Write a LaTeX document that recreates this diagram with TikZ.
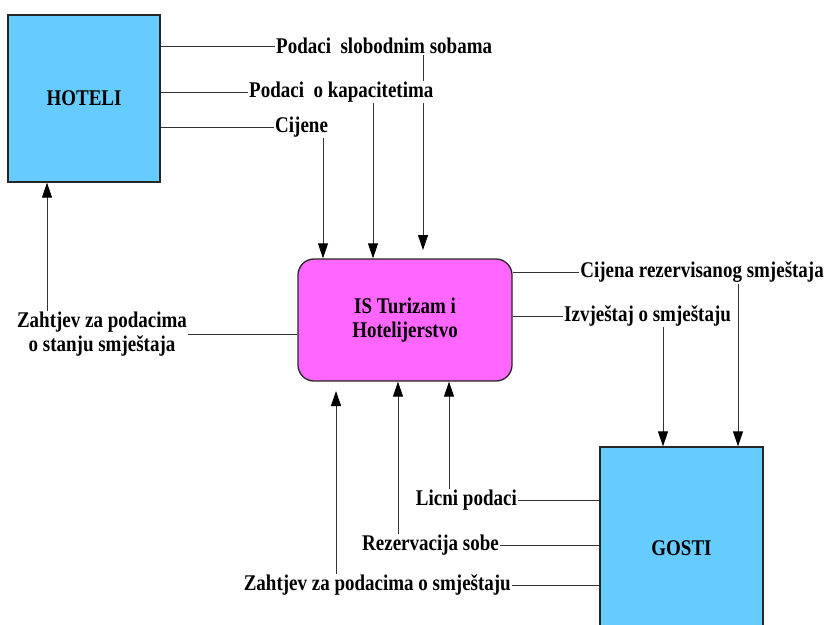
\documentclass[tikz,border=0pt]{standalone}
\usepackage{fontspec}
\setmainfont{Liberation Serif}
\usetikzlibrary{arrows.meta,backgrounds}
\definecolor{boxblue}{HTML}{66CCFF}
\definecolor{boxpink}{HTML}{FF66FF}
\definecolor{linegray}{HTML}{333333}
\newcommand{\stt}[1]{\scalebox{1}[1.18]{#1}}
\begin{document}
\begin{tikzpicture}[x=1pt,y=-1pt,
  lbl/.style={font=\fontsize{19}{24}\selectfont\bfseries, fill=white, inner sep=1pt},
  ext/.style={draw=black!85, line width=1.3pt, fill=boxblue, font=\fontsize{19}{24}\selectfont\bfseries, inner sep=0pt},
  proc/.style={draw=black!85, line width=1.3pt, fill=boxpink, rounded corners=16pt, font=\fontsize{19}{24}\selectfont\bfseries, inner sep=0pt, align=center},
  flow/.style={draw=linegray, line width=0.9pt},
  arr/.style={flow, -{Triangle[length=15pt,width=10pt,color=black]}}]
\clip (0,0) rectangle (826,624);
% boxes
\node[ext, minimum width=152pt, minimum height=167pt] (hot) at (84,98.5) {\stt{HOTELI}};
\node[proc, minimum width=214pt, minimum height=122pt] (is) at (405,320) {\stt{IS Turizam i}\\\stt{Hotelijerstvo}};
\node[ext, minimum width=163pt, minimum height=203pt] (gos) at (681.5,548.5) {\stt{GOSTI}};
% labels
\node[lbl, anchor=west] (l1) at (275,46) {\stt{Podaci\ \ slobodnim sobama}};
\node[lbl, anchor=west] (l2) at (248,92) {\stt{Podaci\ \ o kapacitetima}};
\node[lbl, anchor=west] (l3) at (274,127) {\stt{Cijene}};
\node[lbl, anchor=east] (r1) at (825,272) {\stt{Cijena rezervisanog smještaja}};
\node[lbl, anchor=west] (r2) at (563,316) {\stt{Izvještaj o smještaju}};
\node[lbl, align=center] (lz) at (102,334) {\stt{Zahtjev za podacima}\\\stt{o stanju smještaja}};
\node[lbl, anchor=east] (b1) at (518,500) {\stt{Licni podaci}};
\node[lbl, anchor=east] (b2) at (500,545) {\stt{Rezervacija sobe}};
\node[lbl, anchor=east] (b3) at (512,585) {\stt{Zahtjev za podacima o smještaju}};
% helper coordinates
\coordinate (x0) at (47,0);
\coordinate (x1) at (323,0);
\coordinate (x2) at (373,0);
\coordinate (x3) at (423,0);
\coordinate (e3) at (423,250);
\coordinate (x5) at (663,0);
\coordinate (x6) at (738,0);
\coordinate (x7) at (449,0);
\coordinate (x8) at (398,0);
\coordinate (x9) at (336,0);
\coordinate (e9) at (336,391);
\begin{pgfonlayer}{background}
\draw[flow] (hot.east |- l1) -- (l1.west);
\draw[flow] (hot.east |- l2) -- (l2.west);
\draw[flow] (hot.east |- l3) -- (l3.west);
\draw[arr] (l3.south -| x1) -- (is.north -| x1);
\draw[arr] (l2.south -| x2) -- (is.north -| x2);
\draw[arr] (l1.south -| x3) -- (e3);
\draw[flow] (is.east |- r1) -- (r1.west);
\draw[flow] (is.east |- r2) -- (r2.west);
\draw[arr] (r2.south -| x5) -- (gos.north -| x5);
\draw[arr] (r1.south -| x6) -- (gos.north -| x6);
\draw[flow] (lz.east) -- (is.west |- lz.east);
\draw[arr] (lz.north -| x0) -- (hot.south -| x0);
\draw[flow] (gos.west |- b1) -- (b1.east);
\draw[flow] (gos.west |- b2) -- (b2.east);
\draw[flow] (gos.west |- b3) -- (b3.east);
\draw[arr] (b1.north -| x7) -- (is.south -| x7);
\draw[arr] (b2.north -| x8) -- (is.south -| x8);
\draw[arr] (b3.north -| x9) -- (e9);
\end{pgfonlayer}
\end{tikzpicture}
\end{document}
